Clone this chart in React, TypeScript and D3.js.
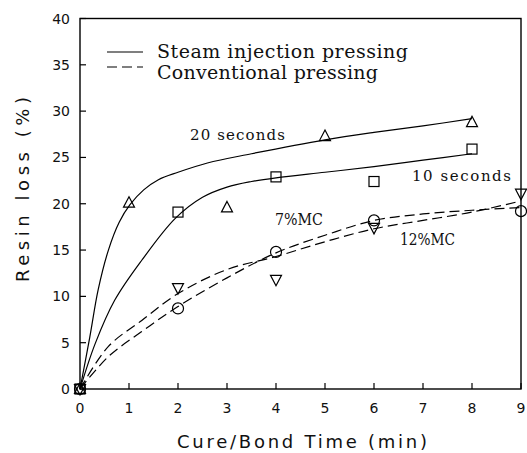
import React from "react";
import * as d3 from "d3";

// ---- data ----
const xTicks = [0, 1, 2, 3, 4, 5, 6, 7, 8, 9];
const yTicks = [0, 5, 10, 15, 20, 25, 30, 35, 40];

// measured points
const tri20Times = [0, 1, 3, 5, 8];
const tri20Values = [0, 20.1, 19.6, 27.3, 28.8];
const sq10Times = [0, 2, 4, 6, 8];
const sq10Values = [0, 19.1, 22.9, 22.4, 25.9];
const circ7Times = [0, 2, 4, 6, 9];
const circ7Values = [0, 8.7, 14.8, 18.2, 19.2];
const inv12Times = [0, 2, 4, 6, 9];
const inv12Values = [0, 10.9, 11.8, 17.4, 21.1];

// fitted curves
const fit20Times = [0, 0.2, 0.37, 0.58, 0.8, 1.02, 1.3, 1.6, 2.0, 2.6, 3.5, 5, 6, 7, 8];
const fit20Values = [0, 5.6, 10.7, 15.0, 18.0, 19.9, 21.5, 22.6, 23.4, 24.4, 25.4, 26.9, 27.7, 28.4, 29.2];
const fit10Times = [0, 0.31, 0.71, 1.26, 1.94, 2.5, 3, 3.5, 4, 5, 6, 7, 8];
const fit10Values = [0, 4.9, 9.6, 13.9, 18.4, 20.7, 21.8, 22.4, 22.8, 23.4, 24.0, 24.7, 25.4];
const fit7Times = [0, 0.58, 1.26, 2, 3, 4, 5, 6, 7, 8, 9];
const fit7Values = [0, 3.5, 6.2, 8.9, 12.0, 14.7, 16.6, 18.2, 18.9, 19.3, 19.6];
const fit12Times = [0, 0.58, 1.26, 2, 3, 4, 5, 6, 7, 8, 9];
const fit12Values = [0, 4.6, 7.4, 10.3, 12.9, 14.3, 15.9, 17.3, 18.2, 19.1, 20.3];

const legendLabels = ["Steam injection pressing", "Conventional pressing"];
const curveLabels = ["20 seconds", "10 seconds", "7%MC", "12%MC"];

const W = 527;
const H = 453;
const serif = "'DejaVu Serif', serif";
const sans = "'DejaVu Sans', sans-serif";

export default function App() {
  const x = d3.scaleLinear().domain([0, 9]).range([80, 521]);
  const y = d3.scaleLinear().domain([0, 40]).range([389, 18.5]);

  const line = d3
    .line<[number, number]>()
    .x((d) => x(d[0]))
    .y((d) => y(d[1]))
    .curve(d3.curveCatmullRom.alpha(0.5));

  const zip = (a: number[], b: number[]) => a.map((v, i) => [v, b[i]] as [number, number]);

  const triUp = (cx: number, cy: number, s = 11) =>
    `M${cx},${cy - s * 0.55}L${cx + s / 2},${cy + s * 0.4}L${cx - s / 2},${cy + s * 0.4}Z`;
  const triDown = (cx: number, cy: number, s = 11) =>
    `M${cx},${cy + s * 0.55}L${cx + s / 2},${cy - s * 0.4}L${cx - s / 2},${cy - s * 0.4}Z`;

  const left = x(0), right = x(9), top = y(40), bottom = y(0);

  return (
    <svg
      width={W}
      height={H}
      style={{ position: "absolute", left: 0, top: 0, background: "#fff" }}
    >
      <rect x={0} y={0} width={W} height={H} fill="#fff" />
      {/* frame */}
      <rect x={left} y={top} width={right - left} height={bottom - top} fill="none" stroke="#000" strokeWidth={1.4} />

      {/* y ticks */}
      {yTicks.map((t) => (
        <g key={"y" + t}>
          <line x1={left} x2={left + 6} y1={y(t)} y2={y(t)} stroke="#000" strokeWidth={1.2} />
          <text x={left - 10} y={y(t)} dy="0.36em" textAnchor="end" fontFamily={sans} fontSize={14} fill="#111">
            {t}
          </text>
        </g>
      ))}
      {/* x ticks */}
      {xTicks.map((t) => (
        <g key={"x" + t}>
          <line x1={x(t)} x2={x(t)} y1={bottom} y2={bottom - 6} stroke="#000" strokeWidth={1.2} />
          <text x={x(t)} y={bottom + 19} dy="0.36em" textAnchor="middle" fontFamily={sans} fontSize={14} fill="#111">
            {t}
          </text>
        </g>
      ))}

      {/* axis titles */}
      <text x={177} y={442} dy="0.36em" textLength={250} lengthAdjust="spacing" fontFamily={sans} fontSize={18} fill="#111">
        Cure/Bond Time (min)
      </text>
      <text
        transform={`translate(23,282) rotate(-90)`}
        dy="0.36em"
        textLength={185}
        lengthAdjust="spacing"
        fontFamily={sans}
        fontSize={18}
        fill="#111"
      >
        Resin loss (%)
      </text>

      {/* curves */}
      <path d={line(zip(fit20Times, fit20Values)) || ""} fill="none" stroke="#000" strokeWidth={1.2} />
      <path d={line(zip(fit10Times, fit10Values)) || ""} fill="none" stroke="#000" strokeWidth={1.2} />
      <path d={line(zip(fit7Times, fit7Values)) || ""} fill="none" stroke="#000" strokeWidth={1.2} strokeDasharray="10,5" />
      <path d={line(zip(fit12Times, fit12Values)) || ""} fill="none" stroke="#000" strokeWidth={1.2} strokeDasharray="10,5" />

      {/* markers */}
      {zip(tri20Times, tri20Values).map((d, i) => (
        <path key={"t" + i} d={triUp(x(d[0]), y(d[1]))} fill="none" stroke="#000" strokeWidth={1.2} />
      ))}
      {zip(sq10Times, sq10Values).map((d, i) => (
        <rect key={"s" + i} x={x(d[0]) - 5} y={y(d[1]) - 5} width={10} height={10} fill="none" stroke="#000" strokeWidth={1.2} />
      ))}
      {zip(circ7Times, circ7Values).map((d, i) => (
        <circle key={"c" + i} cx={x(d[0])} cy={y(d[1])} r={5.5} fill="none" stroke="#000" strokeWidth={1.2} />
      ))}
      {zip(inv12Times, inv12Values).map((d, i) => (
        <path key={"v" + i} d={triDown(x(d[0]), y(d[1]))} fill="none" stroke="#000" strokeWidth={1.2} />
      ))}

      {/* annotations */}
      <text x={190} y={140} textLength={95} lengthAdjust="spacing" fontFamily={serif} fontSize={15} fill="#111">{curveLabels[0]}</text>
      <text x={412} y={181} textLength={99} lengthAdjust="spacing" fontFamily={serif} fontSize={15} fill="#111">{curveLabels[1]}</text>
      <text x={275} y={225} textLength={48} lengthAdjust="spacingAndGlyphs" fontFamily={serif} fontSize={16} fill="#111">{curveLabels[2]}</text>
      <text x={400} y={245} textLength={55} lengthAdjust="spacingAndGlyphs" fontFamily={serif} fontSize={16} fill="#111">{curveLabels[3]}</text>

      {/* legend */}
      <line x1={107} x2={143} y1={52} y2={52} stroke="#000" strokeWidth={1.2} />
      <line x1={107} x2={143} y1={67} y2={67} stroke="#000" strokeWidth={1.2} strokeDasharray="10,5" />
      <text x={157} y={58} textLength={251} lengthAdjust="spacing" fontFamily={serif} fontSize={19} fill="#111">{legendLabels[0]}</text>
      <text x={157} y={79} textLength={221} lengthAdjust="spacing" fontFamily={serif} fontSize={19} fill="#111">{legendLabels[1]}</text>
    </svg>
  );
}
